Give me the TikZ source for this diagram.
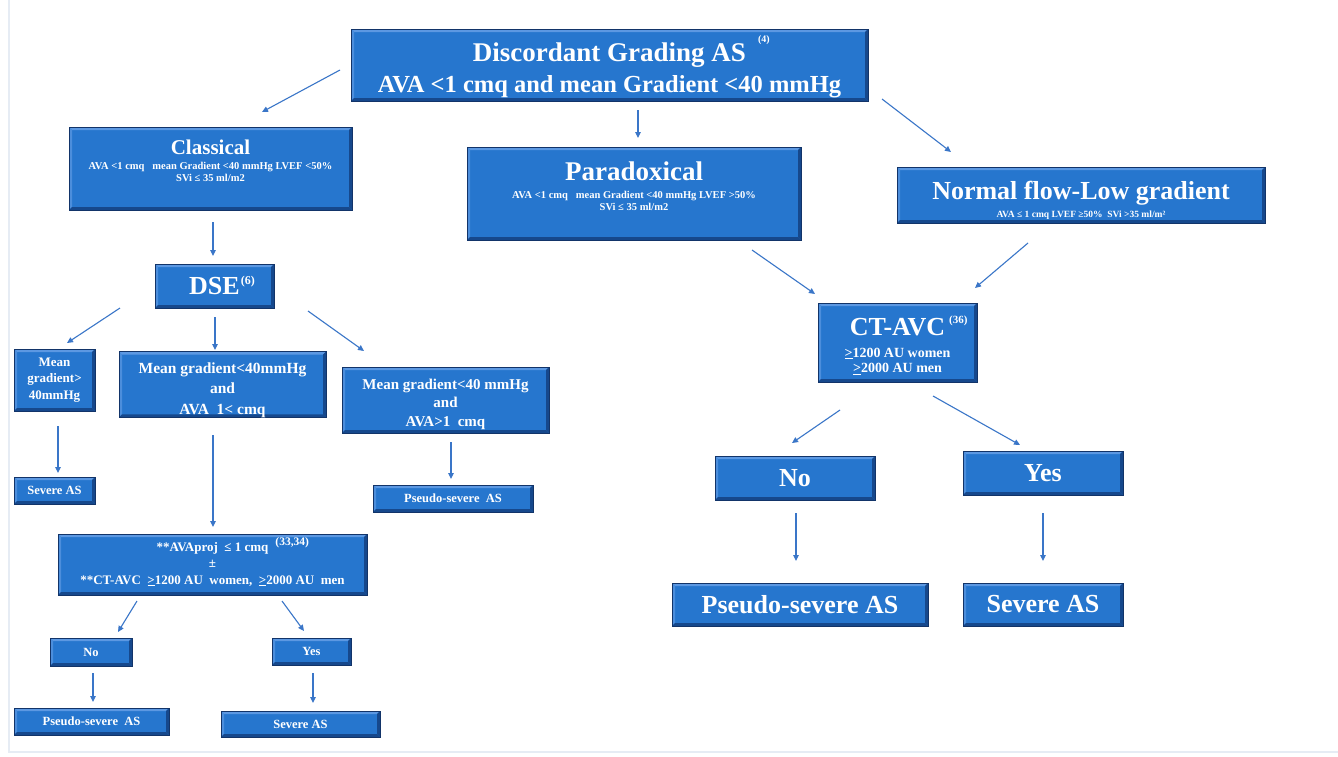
\documentclass[tikz,border=0pt]{standalone}
\usepackage{fontspec}
\setmainfont{Liberation Serif}
\usetikzlibrary{arrows.meta}
\newcommand\fsz[2]{\fontsize{#1pt}{#2pt}\selectfont}
\newcommand\supr[4]{\rlap{\smash{\hspace{#1pt}\raisebox{#2pt}{\fsz{#3}{#3}#4}}}}
\newcommand\up[1]{\rule[-#1pt]{0pt}{0pt}}
\newcommand\dn[1]{\rule{0pt}{#1pt}}
\definecolor{boxblue}{RGB}{38,118,206}
\definecolor{boxlight}{RGB}{92,152,226}
\definecolor{boxshade}{RGB}{22,72,140}
\definecolor{boxdark}{RGB}{18,52,105}
\definecolor{arrowblue}{RGB}{58,118,200}
\definecolor{frameline}{RGB}{230,236,244}
\tikzset{
  bevel/.style={path picture={
    \path (path picture bounding box.south west) coordinate (bsw)
          (path picture bounding box.north east) coordinate (bne);
    \fill[boxlight] (bsw |- bne) -- (bne) -- ([shift={(-3pt,-3pt)}]bne) -- ([shift={(3pt,-3pt)}]bsw |- bne) -- cycle;
    \fill[boxlight!70!boxblue] (bsw |- bne) -- ([shift={(3pt,-3pt)}]bsw |- bne) -- ([shift={(3pt,3pt)}]bsw) -- (bsw) -- cycle;
    \fill[boxshade] (bsw) -- ([shift={(3pt,3pt)}]bsw) -- ([shift={(-3pt,3pt)}]bsw -| bne) -- (bsw -| bne) -- cycle;
    \fill[boxshade] (bsw -| bne) -- ([shift={(-3pt,3pt)}]bsw -| bne) -- ([shift={(-3pt,-3pt)}]bne) -- (bne) -- cycle;
  }},
  box/.style={rectangle, fill=boxblue, draw=boxdark, line width=0.8pt, text=white,
    align=center, inner sep=0pt, font=\bfseries, bevel},
  arr/.style={draw=arrowblue, line width=1.1pt, -{Triangle[length=6pt,width=5.5pt]}},
}
\newcommand\conn[4]{\draw[arr] ([shift={#2}]#1.center) -- ([shift={#4}]#3.center);}
\begin{document}
\begin{tikzpicture}[x=1pt,y=-1pt]
\useasboundingbox (0,0) rectangle (1338,756);
\fill[white] (0,0) rectangle (1338,756);
\draw[frameline, line width=2pt] (9,0) -- (9,752) -- (1338,752);

% top
\node[box, minimum width=517pt, minimum height=72pt, font=\bfseries\fsz{24.5}{31}] (top) at (609.5,65)
  {\fsz{27}{31}\dn{29}Discordant Grading AS\supr{12}{19}{10}{(4)}\\
   AVA <1 cmq and mean Gradient <40 mmHg};

% second row
\node[box, minimum width=283pt, minimum height=83pt, font=\bfseries\fsz{10.5}{12.3}] (classical) at (210.5,168.5)
  {\fsz{21}{24}Classical\\[2.5pt]
   AVA <1 cmq\ \ \ mean Gradient <40 mmHg LVEF <50\%\\
   SVi ≤ 35 ml/m2\up{15.5}};
\node[box, minimum width=334pt, minimum height=93pt, font=\bfseries\fsz{10.5}{12}] (para) at (634,193.5)
  {\fsz{27}{30}Paradoxical\\[6pt]
   AVA <1 cmq\ \ \ mean Gradient <40 mmHg LVEF >50\%\\
   SVi ≤ 35 ml/m2\up{15}};
\node[box, minimum width=368pt, minimum height=56pt, font=\bfseries\fsz{9.5}{12}] (normal) at (1081,195)
  {\fsz{26}{28}\dn{28.7}Normal flow-Low gradient\\[4pt]
   AVA ≤ 1 cmq LVEF ≥50\%\ \ SVi >35 ml/m²};

% DSE branch
\node[box, minimum width=119pt, minimum height=44pt, font=\bfseries\fsz{26}{28}] (dse) at (214.5,286)
  {DSE\supr{1}{10}{12}{(6)}};
\node[box, minimum width=81pt, minimum height=62pt, font=\bfseries\fsz{13}{16.7}] (mg1) at (54.5,380)
  {Mean\\gradient>\\40mmHg};
\node[box, minimum width=207pt, minimum height=65pt, font=\bfseries\fsz{15.5}{20.5}] (mg2) at (222.5,384.5)
  {\dn{21.5}Mean gradient<40mmHg\\and\\AVA\ \ 1< cmq};
\node[box, minimum width=207pt, minimum height=66pt, font=\bfseries\fsz{15}{18.5}] (mg3) at (445.5,400)
  {\dn{18.2}Mean gradient<40 mmHg\\and\\AVA>1\ \ cmq};
\node[box, minimum width=81pt, minimum height=27pt, font=\bfseries\fsz{12.5}{14}] (sev1) at (54.5,490.5)
  {Severe AS};
\node[box, minimum width=160pt, minimum height=27pt, font=\bfseries\fsz{12.5}{14}] (pseudo1) at (453,498.5)
  {Pseudo-severe\ \ AS};
\node[box, minimum width=309pt, minimum height=61pt, font=\bfseries\fsz{13}{15.5}] (avaproj) at (212.5,564.5)
  {**AVAproj\ \ ≤ 1 cmq\supr{7}{6}{11.5}{(33,34)}\\
   ±\\[1.5pt]
   **CT-AVC\ \ \underline{>}1200 AU\ \ women,\ \ \underline{>}2000 AU\ \ men};
\node[box, minimum width=82pt, minimum height=28pt, font=\bfseries\fsz{12.5}{14}] (no1) at (91,652)
  {No};
\node[box, minimum width=79pt, minimum height=27pt, font=\bfseries\fsz{12.5}{14}] (yes1) at (311.5,651.5)
  {Yes};
\node[box, minimum width=155pt, minimum height=27pt, font=\bfseries\fsz{12.5}{14}] (pseudo2) at (91.5,721.5)
  {Pseudo-severe\ \ AS};
\node[box, minimum width=159pt, minimum height=26pt, font=\bfseries\fsz{12.5}{14}] (sev2) at (300.5,724)
  {Severe AS};

% CT-AVC branch
\node[box, minimum width=159pt, minimum height=79pt, font=\bfseries\fsz{14}{15.4}] (ctavc) at (897.5,342.5)
  {\fsz{26}{28}\dn{25}CT-AVC\supr{4}{12}{11}{(36)}\\[6.1pt]
   \underline{>}1200 AU women\\
   \underline{>}2000 AU men};
\node[box, minimum width=160pt, minimum height=44pt, font=\bfseries\fsz{26}{28}] (no2) at (795,478)
  {No};
\node[box, minimum width=160pt, minimum height=44pt, font=\bfseries\fsz{26}{28}] (yes2) at (1043,473)
  {Yes};
\node[box, minimum width=256pt, minimum height=43pt, font=\bfseries\fsz{26}{28}] (pseudo3) at (800,604.5)
  {Pseudo-severe AS};
\node[box, minimum width=160pt, minimum height=43pt, font=\bfseries\fsz{26}{28}] (sev3) at (1043,604.5)
  {Severe AS};

% connectors
\conn{top}{(-269.5,5)}{classical}{(51.5,-56.5)}
\conn{top}{(28.5,45)}{para}{(4,-55.5)}
\conn{top}{(272.5,34)}{normal}{(-130,-43)}
\conn{classical}{(2.5,53.5)}{dse}{(-1.5,-30)}
\conn{dse}{(-94.5,22)}{mg1}{(12.5,-37)}
\conn{dse}{(0.5,31)}{mg2}{(-7.5,-34.5)}
\conn{dse}{(93.5,25)}{mg3}{(-81.5,-49)}
\conn{mg1}{(3.5,46)}{sev1}{(3.5,-17.5)}
\conn{mg2}{(-9.5,50.5)}{avaproj}{(0.5,-37.5)}
\conn{mg3}{(5.5,42)}{pseudo1}{(-2,-19.5)}
\conn{avaproj}{(-75.5,36.5)}{no1}{(27,-20)}
\conn{avaproj}{(69.5,36.5)}{yes1}{(-7.5,-20.5)}
\conn{no1}{(2,21)}{pseudo2}{(1.5,-19.5)}
\conn{yes1}{(1.5,21.5)}{sev2}{(12.5,-21)}
\conn{para}{(118,56.5)}{ctavc}{(-82.5,-48.5)}
\conn{normal}{(-53,48)}{ctavc}{(77.5,-54.5)}
\conn{ctavc}{(-57.5,67.5)}{no2}{(-3,-35)}
\conn{ctavc}{(35.5,53.5)}{yes2}{(-23,-28)}
\conn{no2}{(1,35)}{pseudo3}{(-4,-43.5)}
\conn{yes2}{(0,40)}{sev3}{(0,-43.5)}
\end{tikzpicture}
\end{document}
